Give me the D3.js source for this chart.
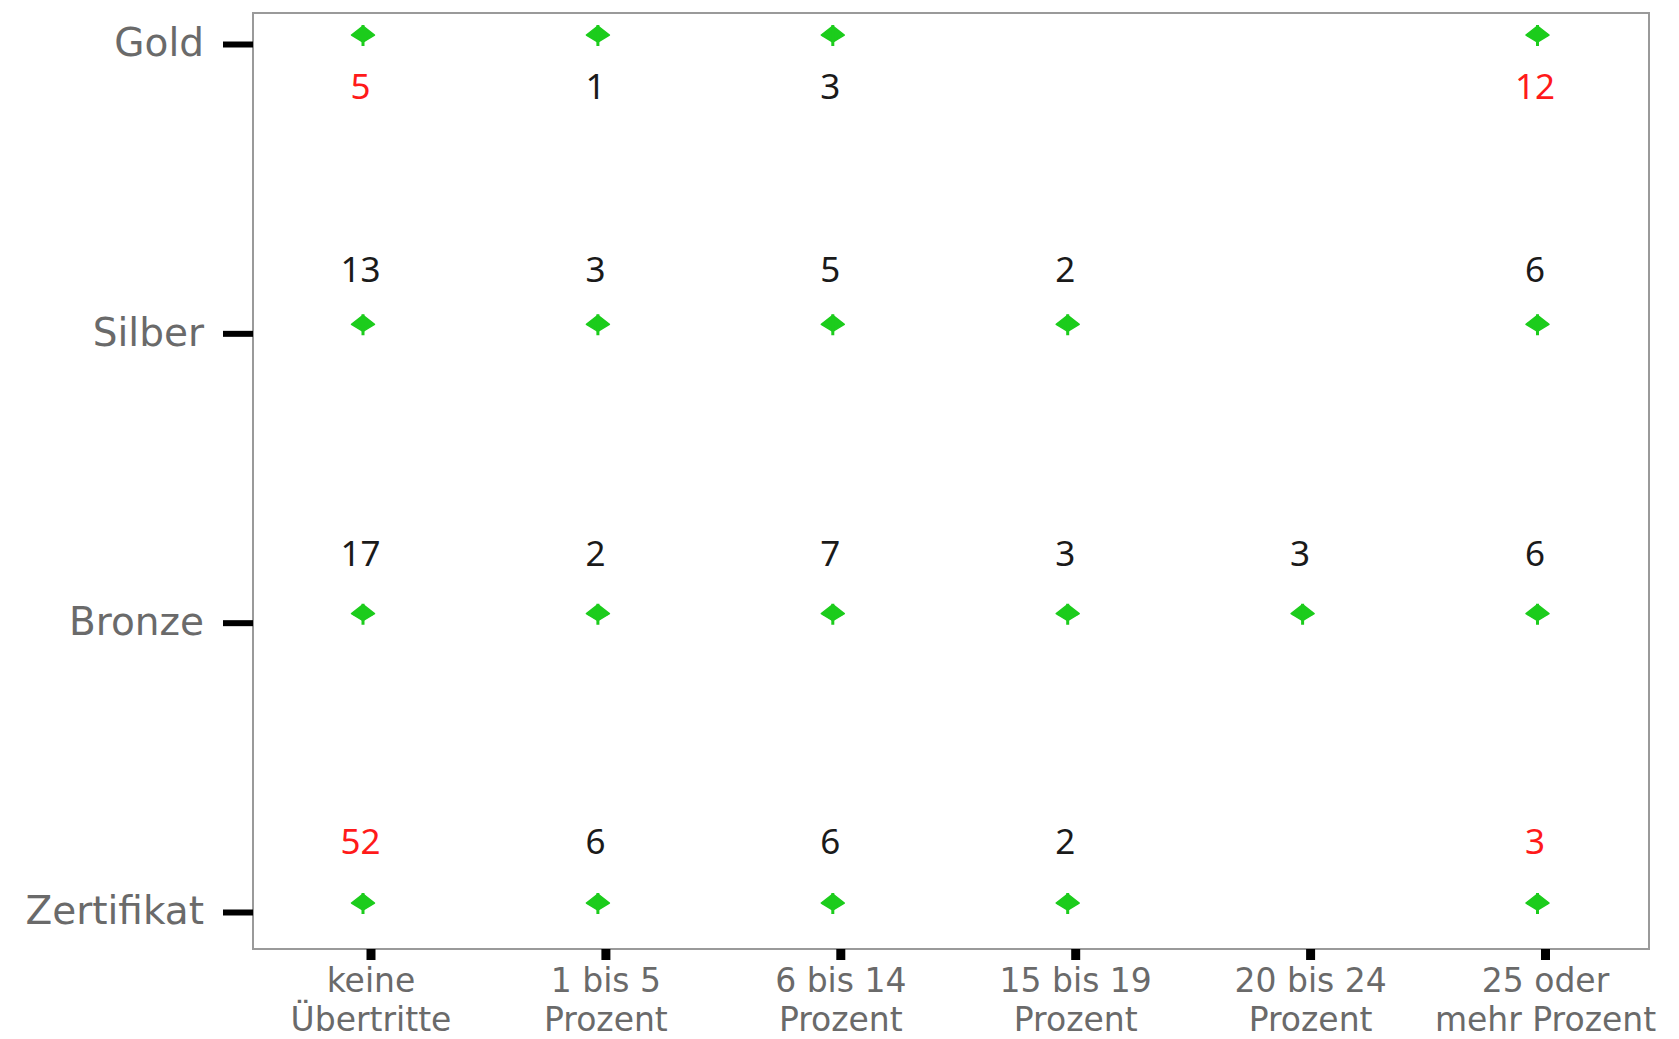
<!DOCTYPE html>
<html>
<head>
<meta charset="utf-8">
<script src="https://cdn.jsdelivr.net/npm/d3@7"></script>
<style>
  html, body { margin: 0; padding: 0; background: #fff; }
  svg { display: block; }
</style>
</head>
<body>
<svg id="chart" width="1679" height="1039"></svg>
<script>
// ---- data ----
const categories = ["keine\nÜbertritte", "1 bis 5\nProzent", "6 bis 14\nProzent", "15 bis 19\nProzent", "20 bis 24\nProzent", "25 oder\nmehr Prozent"];
const levels = ["Gold", "Silber", "Bronze", "Zertifikat"];
const gold       = [5, 1, 3, null, null, 12];
const silber     = [13, 3, 5, 2, null, 6];
const bronze     = [17, 2, 7, 3, 3, 6];
const zertifikat = [52, 6, 6, 2, null, 3];
const highlighted = [["Gold", 0], ["Gold", 5], ["Zertifikat", 0], ["Zertifikat", 5]];

const seriesByLevel = { "Gold": gold, "Silber": silber, "Bronze": bronze, "Zertifikat": zertifikat };

// ---- layout ----
const plot = { left: 253, top: 13, right: 1649, bottom: 949 };
const svg = d3.select("#chart");

const x = d3.scalePoint().domain(categories).range([370.5, 1545]);
const y = d3.scalePoint().domain(levels).range([44, 912]);

const cells = [];
levels.forEach(lv => {
  seriesByLevel[lv].forEach((v, i) => {
    if (v !== null) cells.push({ level: lv, cat: categories[i], idx: i, value: v,
      red: highlighted.some(h => h[0] === lv && h[1] === i) });
  });
});

// panel border
svg.append("rect")
  .attr("x", plot.left).attr("y", plot.top)
  .attr("width", plot.right - plot.left).attr("height", plot.bottom - plot.top)
  .attr("fill", "#fff").attr("stroke", "#9a9a9a").attr("stroke-width", 2);

// y axis
const yAxis = svg.append("g")
  .attr("transform", `translate(${plot.left},0)`)
  .call(d3.axisLeft(y).tickSize(30).tickPadding(19));
yAxis.select(".domain").remove();
yAxis.selectAll(".tick line").attr("stroke", "#000").attr("stroke-width", 6);
yAxis.selectAll(".tick text")
  .attr("font-family", "DejaVu Sans, sans-serif")
  .attr("font-size", 39)
  .attr("fill", "#6a6a6a")
  .attr("dy", "0.3em");

// x axis
const xAxis = svg.append("g")
  .attr("transform", `translate(0,${plot.bottom})`)
  .call(d3.axisBottom(x).tickSize(11).tickPadding(8));
xAxis.select(".domain").remove();
xAxis.selectAll(".tick line").attr("stroke", "#000").attr("stroke-width", 9);
xAxis.selectAll(".tick text").each(function(d) {
  const t = d3.select(this);
  t.text(null)
    .attr("font-family", "DejaVu Sans, sans-serif")
    .attr("font-size", 33)
    .attr("fill", "#6a6a6a")
    .attr("dy", null)
    .attr("y", 0);
  d.split("\n").forEach((line, k) => {
    t.append("tspan").attr("x", 0).attr("y", 43 + k * 39).text(line);
  });
});

// markers
const mdx = -7.5, mdy = -9;
const markers = svg.append("g");
const mk = markers.selectAll("g.mk").data(cells).join("g")
  .attr("class", "mk")
  .attr("transform", d => `translate(${x(d.cat) + mdx},${y(d.level) + mdy})`);
mk.append("path")
  .attr("d", "M-11.5,0 L0,-9 L11.5,0 L0,7 Z")
  .attr("fill", "#1ccc1c").attr("stroke", "#1ccc1c").attr("stroke-width", 1.5)
  .attr("stroke-linejoin", "round");
mk.append("path")
  .attr("d", "M0,-10 L0,11 M-10,0 L10,0")
  .attr("stroke", "#1ccc1c").attr("stroke-width", 3);

// value labels
const labelOffset = { "Gold": 55, "Silber": -51, "Bronze": -57, "Zertifikat": -58 };
svg.append("g").selectAll("text").data(cells).join("text")
  .attr("x", d => x(d.cat) - 10)
  .attr("y", d => y(d.level) + labelOffset[d.level])
  .attr("text-anchor", "middle")
  .attr("font-family", "Noto Sans, sans-serif")
  .attr("font-size", 35)
  .attr("fill", d => d.red ? "#ff1a1a" : "#1a1a1a")
  .text(d => d.value);
</script>
</body>
</html>
